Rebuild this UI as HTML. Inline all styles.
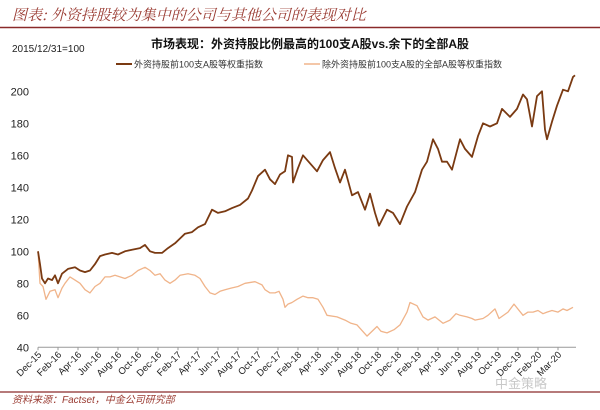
<!DOCTYPE html>
<html><head><meta charset="utf-8"><style>
body{margin:0;background:#fff;width:600px;height:405px;overflow:hidden;font-family:"Liberation Sans","Noto Sans CJK SC",sans-serif}
</style></head><body>
<svg width="600" height="405" xmlns="http://www.w3.org/2000/svg">
<text x="12" y="20" font-size="15" font-style="italic" fill="#9a3b32" font-family="'Noto Serif CJK SC','Noto Sans CJK SC',serif">图表: 外资持股较为集中的公司与其他公司的表现对比</text>
<line x1="0" y1="27.5" x2="600" y2="27.5" stroke="#8a2a2a" stroke-width="1.5"/>
<text x="310" y="48" font-size="12" font-weight="bold" text-anchor="middle" fill="#111">市场表现：外资持股比例最高的100支A股vs.余下的全部A股</text>
<text x="12" y="52" font-size="10" fill="#222">2015/12/31=100</text>
<g>
<line x1="116" y1="64" x2="132" y2="64" stroke="#7a3a12" stroke-width="2"/>
<text x="134" y="67.5" font-size="9" fill="#333">外资持股前100支A股等权重指数</text>
<line x1="304" y1="64" x2="320" y2="64" stroke="#f0b48a" stroke-width="1.5"/>
<text x="322" y="67.5" font-size="9" fill="#333">除外资持股前100支A股的全部A股等权重指数</text>
</g>
<g id="yaxis"></g><g id="xaxis"></g><g id="series"></g>
<text x="495" y="388" font-size="13" fill="#c8c8c8">中金策略</text>
<line x1="0" y1="392" x2="600" y2="392" stroke="#8a2a2a" stroke-width="1.2"/>
<text x="12" y="403" font-size="10" font-style="italic" fill="#9a3b32">资料来源：Factset，中金公司研究部</text>
</svg>
<script>
const yTicks=[40,60,80,100,120,140,160,180,200];
const xLabels=["Dec-15","Feb-16","Apr-16","Jun-16","Aug-16","Oct-16","Dec-16","Feb-17","Apr-17","Jun-17","Aug-17","Oct-17","Dec-17","Feb-18","Apr-18","Jun-18","Aug-18","Oct-18","Dec-18","Feb-19","Apr-19","Jun-19","Aug-19","Oct-19","Dec-19","Feb-20","Mar-20"];
const topDays=[0,4,8,14,20,28,34,40,48,60,74,84,94,104,114,124,134,148,160,174,188,204,214,224,234,248,260,274,284,294,308,320,334,348,360,374,388,404,420,428,440,454,464,474,484,494,500,508,510,520,530,544,558,570,584,594,604,614,628,640,654,664,674,682,698,710,724,738,754,768,778,790,800,808,818,828,844,854,868,880,890,904,918,928,944,958,970,978,988,998,1008,1014,1018,1028,1038,1050,1060,1070,1074];
const topVals=[100,92,83,80,83,82,85,80,86,89,90,88,87,88,92,97,98,99,98,100,101,102,104,100,99,99,102,105,108,111,112,115,117,126,124,125,127,129,133,138,147,151,145,142,148,150,160,159,143,152,160,155,150,157,162,152,143,151,135,137,126,136,124,116,126,124,117,128,137,151,156,170,164,156,156,151,170,164,159,172,180,178,180,189,184,189,198,195,178,197,200,176,170,181,191,201,200,209,210];
const restDays=[0,4,10,16,24,34,40,48,54,64,74,84,94,104,114,124,134,144,154,164,174,188,200,214,224,234,244,254,264,274,284,300,314,324,334,344,354,364,374,386,400,414,434,448,454,464,474,482,490,494,500,508,518,530,540,550,560,570,578,598,614,626,638,658,678,686,698,712,724,738,744,758,770,780,794,810,824,836,844,858,868,874,890,900,914,922,940,952,970,980,990,1000,1010,1018,1028,1040,1050,1058,1070];
const restVals=[100,80,78,70,75,76,71,77,80,84,82,80,76,74,78,80,84,84,85,84,83,85,88,90,88,85,86,82,80,82,85,86,85,83,78,74,73,75,76,77,78,80,81,79,76,74,74,75,70,65,67,68,70,72,71,71,70,65,60,59,57,55,54,47,53,50,49,51,54,62,68,66,59,57,59,55,57,61,60,59,58,57,58,60,64,58,62,67,60,62,62,63,61,62,63,62,64,63,65];
const X0=38,DAY=0.5,Y0=347.3,YU=1.6;
const xs=d=>X0+d*DAY, ys=v=>Y0-(v-40)*YU;
const NS="http://www.w3.org/2000/svg";
function mk(t,a,p){const e=document.createElementNS(NS,t);for(const k in a)e.setAttribute(k,a[k]);p.appendChild(e);return e;}
const ya=document.getElementById('yaxis');
yTicks.forEach(v=>{const t=mk('text',{x:29,y:ys(v)+4,'font-size':11,'text-anchor':'end',fill:'#222'},ya);t.textContent=v;

});
const xa=document.getElementById('xaxis');
const ax=mk('line',{x1:X0,y1:Y0,x2:576,y2:Y0,stroke:'#999','stroke-width':1},xa);


xLabels.forEach((l,i)=>{const x=xs(i*40);
const tk=mk('line',{x1:x,y1:Y0,x2:x,y2:Y0+3,stroke:'#999'},xa);


const t=mk('text',{x:x+4,y:Y0+8,'font-size':9.5,'text-anchor':'end',fill:'#222',transform:`rotate(-45 ${x+4} ${Y0+8})`},xa);t.textContent=l;

});
const sg=document.getElementById('series');
function line(days,vals,col,w,name){const n=Math.min(days.length,vals.length);let d='';for(let i=0;i<n;i++)d+=(i?'L':'M')+xs(days[i]).toFixed(1)+' '+ys(vals[i]).toFixed(1);
const p=mk('path',{d:d,fill:'none',stroke:col,'stroke-width':w,'stroke-linejoin':'round'},sg);

}
line(restDays,restVals,'#f0b48a',1.3,'series-rest-a-shares');
line(topDays,topVals,'#7a3a12',1.8,'series-top100-foreign-held');
</script>
</body></html>
